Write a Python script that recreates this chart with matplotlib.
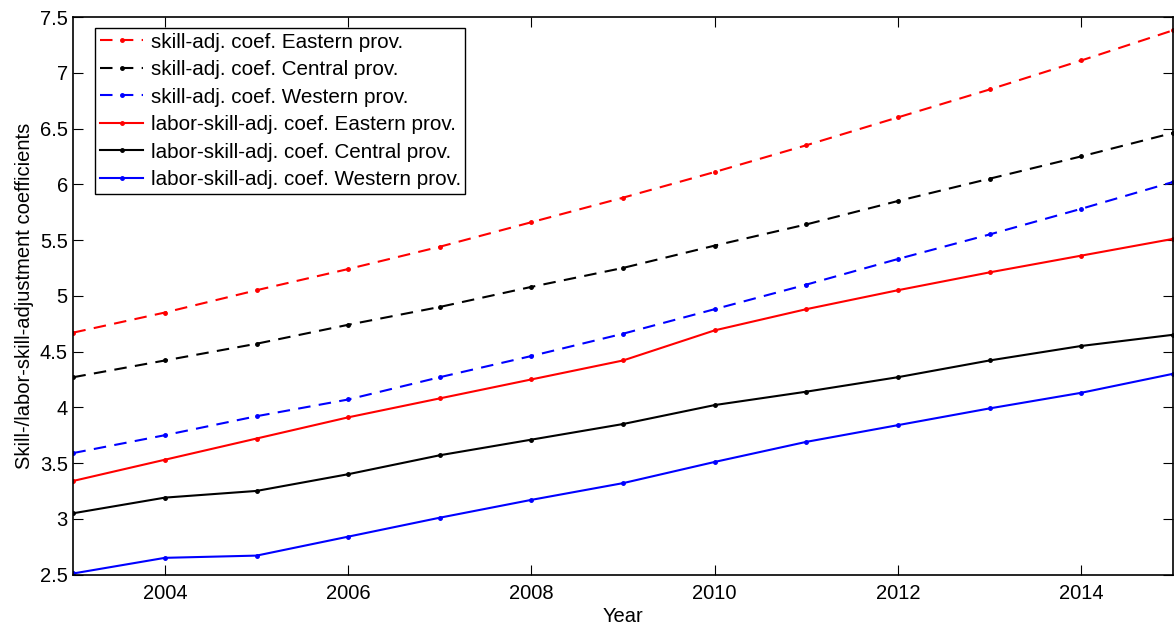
import numpy as np
import matplotlib
matplotlib.use('Agg')
import matplotlib.pyplot as plt

plt.rcParams['font.family'] = ['Liberation Sans', 'DejaVu Sans']

# data
years = np.arange(2003, 2016)

skill_east = [4.67, 4.85, 5.05, 5.24, 5.44, 5.66, 5.88, 6.11, 6.35, 6.60, 6.85, 7.11, 7.38]
skill_central = [4.27, 4.42, 4.57, 4.74, 4.90, 5.08, 5.25, 5.45, 5.64, 5.85, 6.05, 6.25, 6.46]
skill_west = [3.59, 3.75, 3.92, 4.07, 4.27, 4.46, 4.66, 4.88, 5.10, 5.33, 5.55, 5.78, 6.02]
labor_east = [3.34, 3.53, 3.72, 3.91, 4.08, 4.25, 4.42, 4.69, 4.88, 5.05, 5.21, 5.36, 5.51]
labor_central = [3.05, 3.19, 3.25, 3.40, 3.57, 3.71, 3.85, 4.02, 4.14, 4.27, 4.42, 4.55, 4.65]
labor_west = [2.51, 2.65, 2.67, 2.84, 3.01, 3.17, 3.32, 3.51, 3.69, 3.84, 3.99, 4.13, 4.30]

labels = ['skill-adj. coef. Eastern prov.',
          'skill-adj. coef. Central prov.',
          'skill-adj. coef. Western prov.',
          'labor-skill-adj. coef. Eastern prov.',
          'labor-skill-adj. coef. Central prov.',
          'labor-skill-adj. coef. Western prov.']

series = [skill_east, skill_central, skill_west, labor_east, labor_central, labor_west]
colors = ['#ff0000', '#000000', '#0000ff', '#ff0000', '#000000', '#0000ff']
styles = ['--', '--', '--', '-', '-', '-']

fig = plt.figure(figsize=(11.74, 6.3), dpi=100)
ax = fig.add_axes([0.0625, 0.088, 0.9365, 0.885])

for vals, c, ls, lab in zip(series, colors, styles, labels):
    line, = ax.plot(years, vals, color=c, linestyle=ls, lw=1.5,
                    marker='.', markersize=5, label=lab)
    if ls == '--':
        line.set_dashes((6, 4))

ax.set_xlim(2003, 2015)
ax.set_ylim(2.5, 7.5)
ax.set_xticks(np.arange(2004, 2015, 2))
ax.set_yticks(np.arange(2.5, 7.51, 0.5))
ax.set_yticklabels(['2.5', '3', '3.5', '4', '4.5', '5', '5.5', '6', '6.5', '7', '7.5'])
ax.tick_params(direction='in', length=7.5, width=0.8, top=True, right=True,
               labelsize=14.5)
ax.tick_params(axis='x', pad=7)
ax.tick_params(axis='y', pad=4)
for sp in ax.spines.values():
    sp.set_linewidth(1.2)

ax.set_xlabel('Year', fontsize=14.5, labelpad=3)
ax.set_ylabel('Skill-/labor-skill-adjustment coefficients', fontsize=14.5, labelpad=4)

leg = ax.legend(loc='upper left', bbox_to_anchor=(0.02, 0.98), fontsize=14.9,
                fancybox=False, framealpha=1, edgecolor='black',
                handlelength=2.1, handletextpad=0.35, labelspacing=0.41,
                borderpad=0.22, borderaxespad=0)
leg.get_frame().set_linewidth(1.0)

fig.savefig('out.png', dpi=100)
